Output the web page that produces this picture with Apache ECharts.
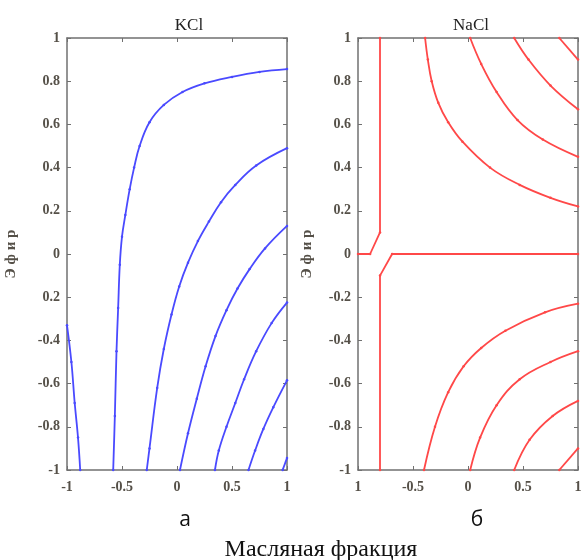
<!DOCTYPE html>
<html>
<head>
<meta charset="utf-8">
<script src="https://cdn.jsdelivr.net/npm/echarts@6/dist/echarts.min.js"></script>
<style>
  html, body { margin: 0; padding: 0; background: #fff; }
  #chart { width: 586px; height: 560px; }
</style>
</head>
<body>
<div id="chart"></div>
<script>
// tick labels as printed in the figure
const kclXLabels = ['-1', '-0.5', '0', '0.5', '1'];
const naclXLabels = ['1', '-0.5', '0', '0.5', '1'];
const kclYLabels = ['-1', '-0.8', '-0.6', '-0.4', '0.2', '0', '0.2', '0.4', '0.6', '0.8', '1'];
const naclYLabels = ['-1', '-0.8', '-0.6', '-0.4', '-0.2', '0', '0.2', '0.4', '0.6', '0.8', '1'];

// KCl contour lines, [x, y]
const kclLine0 = [[-1, -0.33], [-0.96, -0.5], [-0.93, -0.69], [-0.9, -0.85], [-0.88, -1]];
const kclLine1 = [[-0.58, -1], [-0.565, -0.75], [-0.55, -0.45], [-0.535, -0.25], [-0.52, -0.05],
  [-0.5, 0.08], [-0.47, 0.18], [-0.43, 0.3], [-0.39, 0.4], [-0.34, 0.5], [-0.25, 0.61],
  [-0.12, 0.69], [0.05, 0.75], [0.25, 0.79], [0.5, 0.82], [0.75, 0.843], [1, 0.856]];
const kclLine2 = [[-0.275, -1], [-0.25, -0.9], [-0.18, -0.62], [-0.12, -0.44], [-0.05, -0.28],
  [0.02, -0.15], [0.1, -0.04], [0.19, 0.06], [0.29, 0.15], [0.4, 0.24], [0.53, 0.32],
  [0.72, 0.41], [1, 0.49]];
const kclLine3 = [[0.027, -1], [0.1, -0.83], [0.18, -0.67], [0.26, -0.52], [0.35, -0.38],
  [0.45, -0.26], [0.55, -0.16], [0.66, -0.07], [0.8, 0.026], [1, 0.13]];
const kclLine4 = [[0.345, -1], [0.38, -0.91], [0.45, -0.8], [0.53, -0.69], [0.61, -0.58],
  [0.72, -0.45], [0.86, -0.32], [1, -0.225]];
const kclLine5 = [[0.65, -1], [0.71, -0.91], [0.785, -0.81], [0.875, -0.71], [1, -0.585]];
const kclLine6 = [[0.96, -1], [1, -0.945]];

// NaCl contour lines, [x, y]
const naclCross1 = [[-0.8, 1], [-0.8, 0.1], [-0.89, 0], [-1, 0]];
const naclCross2 = [[1, 0], [-0.69, 0], [-0.8, -0.1], [-0.8, -1]];
const naclTop1 = [[-0.39, 1], [-0.365, 0.9], [-0.33, 0.8], [-0.27, 0.7], [-0.18, 0.61],
  [-0.05, 0.52], [0.2, 0.4], [0.47, 0.32], [0.75, 0.26], [1, 0.22]];
const naclTop2 = [[0.02, 1], [0.12, 0.88], [0.26, 0.75], [0.45, 0.62], [0.68, 0.53], [1, 0.45]];
const naclTop3 = [[0.42, 1], [0.55, 0.9], [0.75, 0.78], [1, 0.67]];
const naclTop4 = [[0.83, 1], [1, 0.9]];
const naclBot1 = [[-0.4, -1], [-0.3, -0.8], [-0.18, -0.64], [-0.04, -0.52], [0.12, -0.435],
  [0.34, -0.355], [0.7, -0.27], [1, -0.23]];
const naclBot2 = [[0.02, -1], [0.11, -0.85], [0.26, -0.7], [0.47, -0.58], [0.75, -0.5], [1, -0.45]];
const naclBot3 = [[0.42, -1], [0.56, -0.86], [0.77, -0.75], [1, -0.68]];
const naclBot4 = [[0.83, -1], [1, -0.9]];

const blue = '#4a4aff';
const red = '#ff4848';
const frameColor = '#707070';
const labelColor = '#555048';
const serif = '"Liberation Serif", "DejaVu Serif", serif';

const tickLabel = (labels, step) => (v) => labels[Math.round((v + 1) / step)] ?? '';

function xAxes(grid, labels) {
  const base = {
    type: 'value', gridIndex: grid, min: -1, max: 1, interval: 0.5,
    axisLine: { show: true, onZero: false, lineStyle: { color: frameColor, width: 1.5 } },
    axisTick: { show: true, inside: true, length: 4, lineStyle: { color: frameColor } },
    splitLine: { show: false }
  };
  return [
    { ...base, position: 'bottom',
      axisLabel: { color: labelColor, fontFamily: serif, fontWeight: 'bold', fontSize: 14, margin: 10,
        formatter: tickLabel(labels, 0.5) } },
    { ...base, position: 'top', axisLabel: { show: false } }
  ];
}

function yAxes(grid, labels) {
  const base = {
    type: 'value', gridIndex: grid, min: -1, max: 1, interval: 0.2,
    axisLine: { show: true, onZero: false, lineStyle: { color: frameColor, width: 1.5 } },
    axisTick: { show: true, inside: true, length: 4, lineStyle: { color: frameColor } },
    splitLine: { show: false }
  };
  return [
    { ...base, position: 'left',
      name: 'Э ф и р', nameLocation: 'middle', nameRotate: 90, nameGap: grid === 0 ? 48 : 43,
      nameTextStyle: { color: labelColor, fontFamily: serif, fontWeight: 'bold', fontSize: 15 },
      axisLabel: { color: labelColor, fontFamily: serif, fontWeight: 'bold', fontSize: 14, margin: 7,
        formatter: tickLabel(labels, 0.2) } },
    { ...base, position: 'right', axisLabel: { show: false } }
  ];
}

function contour(data, color, axis, smooth) {
  return {
    type: 'line', data, xAxisIndex: axis, yAxisIndex: axis,
    smooth: smooth ? 0.4 : false,
    showSymbol: true, symbol: 'circle', symbolSize: 2.5,
    itemStyle: { color },
    lineStyle: { color, width: 1.8 },
    silent: true, animation: false
  };
}

const option = {
  backgroundColor: '#fff',
  animation: false,
  title: [
    { text: 'KCl', left: 184, top: 12, textAlign: 'center',
      textStyle: { fontFamily: serif, fontWeight: 'normal', fontSize: 17, color: '#222' } },
    { text: 'NaCl', left: 466, top: 12, textAlign: 'center',
      textStyle: { fontFamily: serif, fontWeight: 'normal', fontSize: 17, color: '#222' } },
    { text: 'а', left: 180, top: 505, textAlign: 'center',
      textStyle: { fontFamily: '"Open Sans", sans-serif', fontWeight: 'normal', fontSize: 21, color: '#111' } },
    { text: 'б', left: 472, top: 505, textAlign: 'center',
      textStyle: { fontFamily: '"Open Sans", sans-serif', fontWeight: 'normal', fontSize: 21, color: '#111' } },
    { text: 'Масляная фракция', left: 316, top: 533, textAlign: 'center',
      textStyle: { fontFamily: serif, fontWeight: 'normal', fontSize: 24, color: '#111' } }
  ],
  grid: [
    { left: 67, top: 38, width: 220, height: 432 },
    { left: 358, top: 38, width: 220, height: 432 }
  ],
  xAxis: [...xAxes(0, kclXLabels), ...xAxes(1, naclXLabels)],
  yAxis: [...yAxes(0, kclYLabels), ...yAxes(1, naclYLabels)],
  series: [
    contour(kclLine0, blue, 0, true),
    contour(kclLine1, blue, 0, true),
    contour(kclLine2, blue, 0, true),
    contour(kclLine3, blue, 0, true),
    contour(kclLine4, blue, 0, true),
    contour(kclLine5, blue, 0, true),
    contour(kclLine6, blue, 0, true),
    contour(naclCross1, red, 2, false),
    contour(naclCross2, red, 2, false),
    contour(naclTop1, red, 2, true),
    contour(naclTop2, red, 2, true),
    contour(naclTop3, red, 2, true),
    contour(naclTop4, red, 2, true),
    contour(naclBot1, red, 2, true),
    contour(naclBot2, red, 2, true),
    contour(naclBot3, red, 2, true),
    contour(naclBot4, red, 2, true)
  ]
};

const chart = echarts.init(document.getElementById('chart'));
chart.setOption(option);
</script>
</body>
</html>
